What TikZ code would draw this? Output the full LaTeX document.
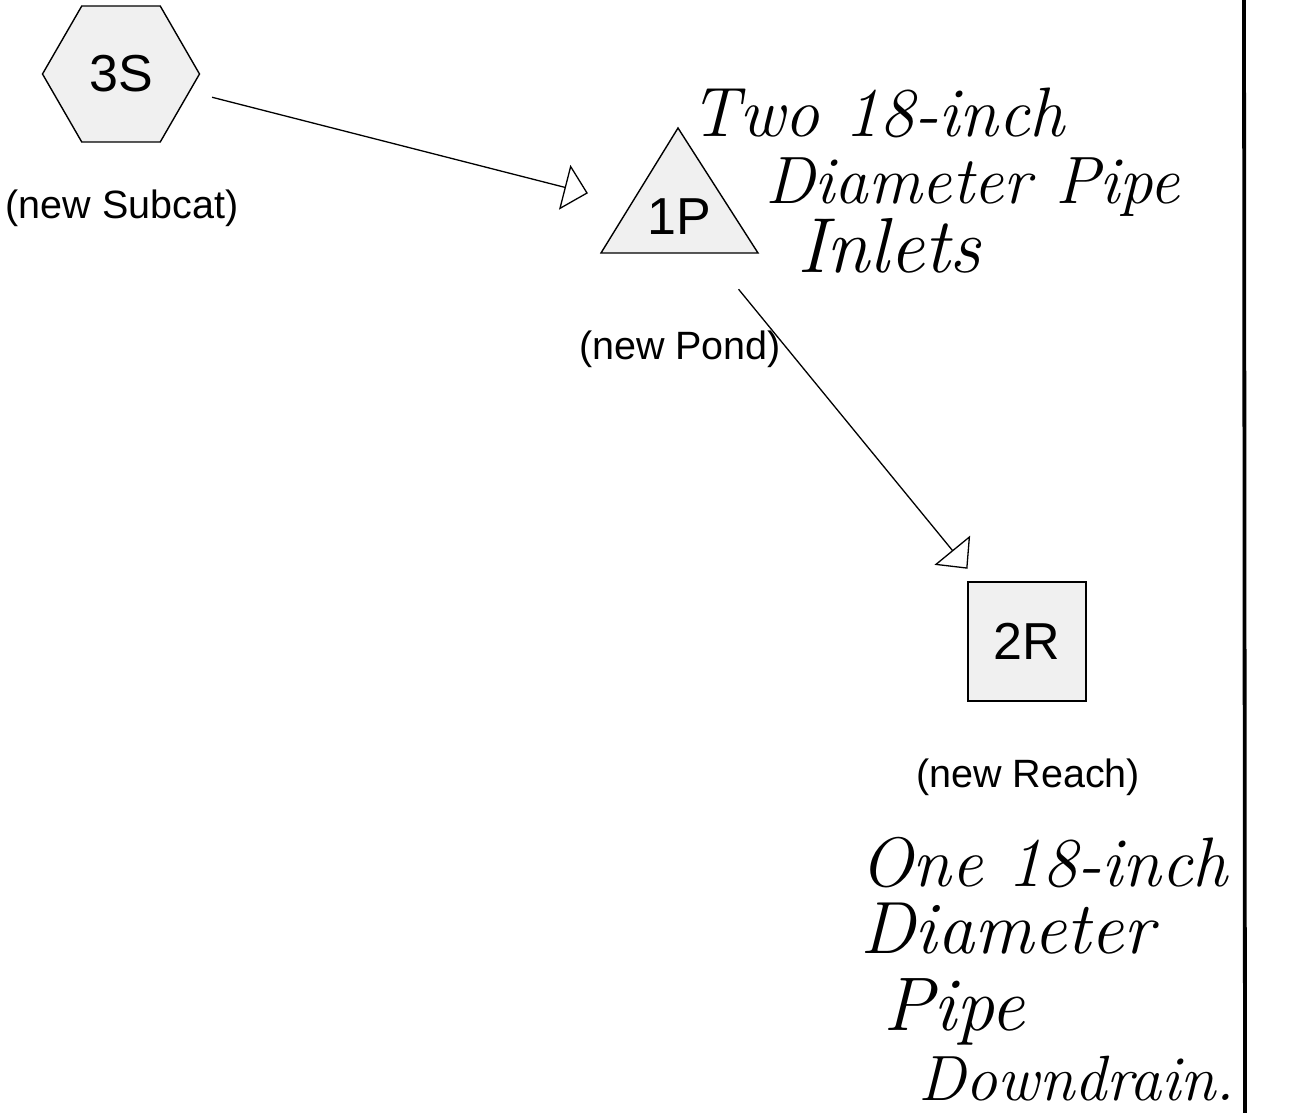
\documentclass[tikz,border=0pt]{standalone}
\usepackage{fontspec}
\newfontfamily\arialf{Liberation Sans}
\usetikzlibrary{shapes.geometric,arrows.meta}
\newcommand{\handsize}[1]{\itshape\fontsize{#1}{#1}\selectfont}
\begin{document}
\begin{tikzpicture}[x=1pt,y=-1pt,
  shapefill/.style={draw=black,fill=black!6,line width=1.4pt},
  idtext/.style={font=\arialf\fontsize{52}{52}\selectfont,inner sep=0pt},
  hexa/.style={shapefill,regular polygon,regular polygon sides=6,minimum size=157pt,inner sep=0pt,font=\arialf\fontsize{52}{52}\selectfont},
  reachbox/.style={shapefill,minimum width=118pt,minimum height=119pt,inner sep=0pt,font=\arialf\fontsize{52}{52}\selectfont},
  caption/.style={font=\arialf\fontsize{39.5}{39.5}\selectfont,inner sep=0pt},
  hand/.style={inner sep=0pt,anchor=base west},
  flow/.style={line width=1.3pt,-{Triangle[open,length=24pt,width=46pt,line width=1.3pt]}}
]
\useasboundingbox (0,0) rectangle (1298,1113);

% 3S subcatchment
\node[hexa] (3S) at (121,74) {3S};
\node[caption] (c3S) at (122,208) {(new Subcat)};

% 1P pond
\draw[shapefill] (678,128) -- (758,253) -- (601,253) -- cycle;
\node[idtext] (1P) at (679,216.5) {1P};
\node[caption] (c1P) at (680,349) {(new Pond)};

% 2R reach
\node[reachbox] (2R) at (1027,641.5) {2R};
\node[caption] (c2R) at (1028,777) {(new Reach)};

% connectors
\draw[flow,shorten <=94pt,shorten >=94pt] (3S.center) -- (1P.center);
\draw[flow,shorten <=94pt,shorten >=94pt] (1P.center) -- (2R.center);

% handwritten notes
\node[hand,font=\handsize{70}] (h1) at (690,137) {Two 18-inch};
\node[hand,font=\handsize{67}] (h2) at (765,203) {Diameter Pipe};
\node[hand,font=\handsize{78}] (h3) at (797,272) {Inlets};

\node[hand,font=\handsize{70}] (h4) at (860,886) {One 18-inch};
\node[hand,font=\handsize{74}] (h5) at (860,953) {Diameter};
\node[hand,font=\handsize{76}] (h6) at (883,1030) {Pipe};
\node[hand,font=\handsize{64}] (h7) at (918,1100) {Downdrain.};

% vertical border line
\draw[line width=3.8pt] (1244,0) -- (1245,1113);
\end{tikzpicture}
\end{document}
